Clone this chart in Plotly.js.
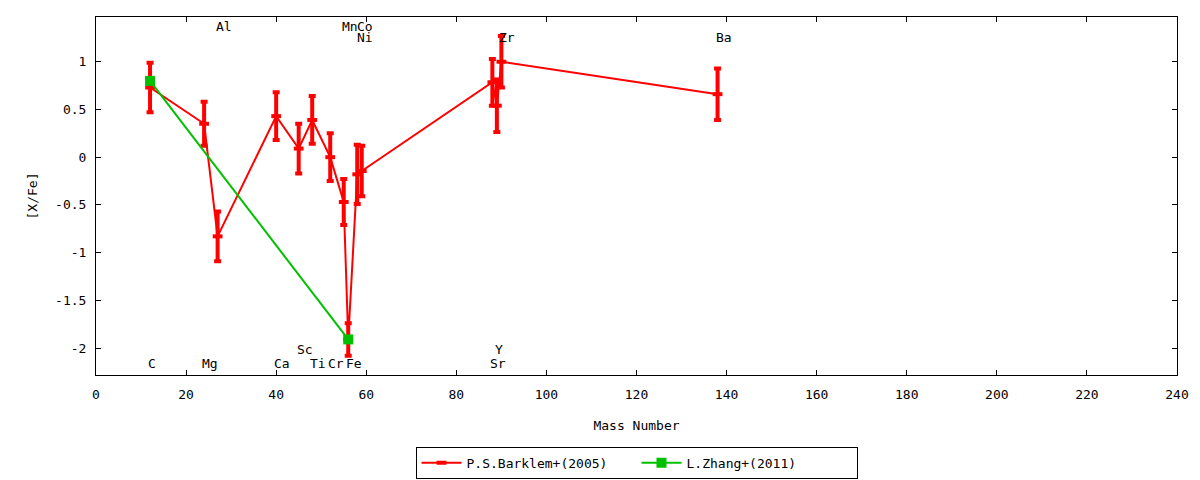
<!DOCTYPE html>
<html>
<head>
<meta charset="utf-8">
<script src="https://cdn.plot.ly/plotly-3.0.1.min.js"></script>
<style>html,body{margin:0;padding:0;background:#fff;}#chart{width:1200px;height:480px;}</style>
</head>
<body>
<div id="chart"></div>
<script>
// Barklem et al. (2005)
const barklemMass = [12, 24, 27, 40, 45, 48, 52, 55, 56, 58, 59, 88, 89, 90, 138];
const barklemVal  = [0.73, 0.35, -0.83, 0.43, 0.09, 0.39, 0.0, -0.47, -1.91, -0.18, -0.145, 0.785, 0.54, 1.0, 0.66];
const barklemErr  = [0.26, 0.23, 0.26, 0.25, 0.26, 0.25, 0.25, 0.24, 0.17, 0.31, 0.265, 0.245, 0.275, 0.27, 0.27];

// Zhang et al. (2011)
const zhangMass = [12, 56];
const zhangVal  = [0.80, -1.91];
const zhangErr  = [0, 0];

// Element labels
const labelText = ['C', 'Mg', 'Al', 'Ca', 'Sc', 'Ti', 'Cr', 'Mn', 'Fe', 'Co', 'Ni', 'Sr', 'Y', 'Zr', 'Ba'];
const labelX    = [12, 24, 27, 40, 45, 48, 52, 55, 56, 58.3, 58.3, 88, 89, 90, 138];
const labelY    = [-2.16, -2.16, 1.365, -2.16, -2.02, -2.16, -2.16, 1.365, -2.16, 1.365, 1.255, -2.16, -2.02, 1.255, 1.255];

// Tick labels
const xTickVals = [0, 20, 40, 60, 80, 100, 120, 140, 160, 180, 200, 220, 240];
const yTickVals = [1, 0.5, 0, -0.5, -1, -1.5, -2];
const yTickText = ['1', '0.5', '0', '-0.5', '-1', '-1.5', '-2'];

const FONT = 'DejaVu Sans Mono, monospace';

const traces = [
  {
    name: 'P.S.Barklem+(2005)',
    x: barklemMass, y: barklemVal, type: 'scatter', mode: 'lines+markers',
    line: {color: '#ff0000', width: 2},
    marker: {symbol: 'line-ew', size: 7, color: '#ff0000', line: {color: '#ff0000', width: 4}},
    error_y: {type: 'data', array: barklemErr, visible: true, color: '#ff0000', thickness: 4, width: 3.5}
  },
  {
    name: 'L.Zhang+(2011)',
    x: zhangMass, y: zhangVal, type: 'scatter', mode: 'lines+markers',
    line: {color: '#00c000', width: 2},
    marker: {symbol: 'square', size: 10, color: '#00c000'},
    error_y: {type: 'data', array: zhangErr, visible: true, color: '#00c000', thickness: 4, width: 3.5}
  }
];

const annotations = labelText.map((t, i) => ({
  x: labelX[i], y: labelY[i], xref: 'x', yref: 'y', text: t, showarrow: false,
  xanchor: 'left', yanchor: 'middle', xshift: -3, borderpad: 0,
  font: {family: FONT, size: 13, color: '#000'}
}));

const layout = {
  width: 1200, height: 480,
  margin: {l: 96, r: 23, t: 17, b: 105, pad: 0},
  paper_bgcolor: '#fff', plot_bgcolor: '#fff',
  font: {family: FONT, size: 13, color: '#000'},
  showlegend: true,
  legend: {
    orientation: 'h', x: 0.5, xanchor: 'center', xref: 'paper',
    y: 0.036, yanchor: 'middle', yref: 'container',
    bordercolor: '#000', borderwidth: 1, bgcolor: '#fff',
    font: {family: FONT, size: 13, color: '#000'},
    itemwidth: 40, entrywidth: 165, entrywidthmode: 'pixels'
  },
  xaxis: {
    range: [0, 240], tickvals: xTickVals, ticks: 'inside', ticklen: 5, tickcolor: '#000',
    showline: true, linecolor: '#000', linewidth: 1, mirror: 'ticks',
    showgrid: false, zeroline: false, ticklabelstandoff: 7, automargin: false,
    tickfont: {family: FONT, size: 13, color: '#000'},
    title: {text: 'Mass Number', font: {family: FONT, size: 13, color: '#000'}, standoff: 20}
  },
  yaxis: {
    range: [-2.283, 1.469], tickvals: yTickVals, ticktext: yTickText, ticks: 'inside', ticklen: 5, tickcolor: '#000',
    showline: true, linecolor: '#000', linewidth: 1, mirror: 'ticks',
    showgrid: false, zeroline: false, ticklabelstandoff: 6, automargin: false,
    tickfont: {family: FONT, size: 13, color: '#000'},
    title: {text: '[X/Fe]', font: {family: FONT, size: 13, color: '#000'}, standoff: 14}
  },
  annotations: annotations
};

Plotly.newPlot('chart', traces, layout, {displayModeBar: false, staticPlot: true});
</script>
</body>
</html>
